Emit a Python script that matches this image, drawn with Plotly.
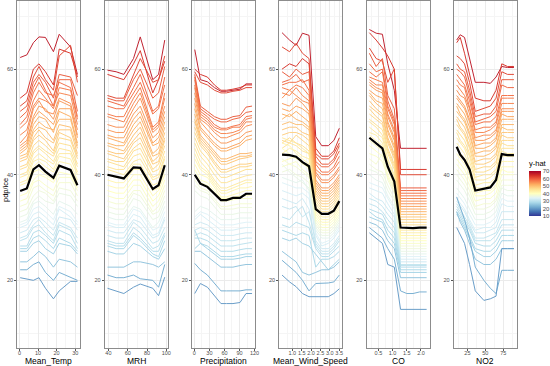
import plotly.graph_objects as go
from plotly.colors import make_colorscale, sample_colorscale, diverging

# ---------------- data ----------------
features = ["Mean_Temp", "MRH", "Precipitation", "Mean_Wind_Speed", "CO", "NO2"]

# y-hat (prediction) of each observation -> line colour
yhat = [67, 64, 62, 60, 59, 58, 57, 56, 55, 54, 53, 52, 51, 50, 49, 48, 47, 46, 45, 44,
        43, 42, 41, 40, 39, 38, 37, 36, 35, 34, 33, 32, 31, 30, 29, 28, 27, 25, 22, 20]

grid_temp = [0.4, 4.0, 7.5, 10.5, 14, 18.3, 21.4, 27.5, 31.2]
pdp_temp = [36.9, 37.4, 41.0, 41.8, 40.6, 39.4, 41.7, 40.9, 38.0]
ice_temp = [
    [62.2, 62.7, 65.0, 66.1, 66.0, 63.3, 66.6, 64.2, 59.0],
    [54.5, 55.5, 60.0, 61.0, 59.5, 57.0, 63.8, 63.0, 58.5],
    [53.0, 54.0, 58.5, 60.5, 58.0, 56.0, 62.5, 64.5, 57.5],
    [52.0, 53.0, 57.5, 59.0, 57.5, 54.5, 59.0, 58.5, 55.0],
    [50.8, 52.0, 56.5, 58.5, 56.0, 53.0, 58.0, 58.0, 52.0],
    [49.5, 51.0, 55.5, 57.5, 55.5, 55.0, 57.5, 56.5, 51.0],
    [48.8, 50.0, 54.0, 56.0, 54.5, 52.5, 56.5, 56.0, 50.5],
    [47.5, 48.5, 53.0, 54.5, 54.0, 53.0, 55.5, 55.0, 49.5],
    [46.0, 47.5, 52.5, 54.0, 52.0, 51.5, 54.5, 53.5, 48.5],
    [45.5, 46.5, 51.0, 53.0, 52.5, 50.5, 54.0, 53.0, 47.5],
    [45.0, 46.0, 50.5, 52.0, 51.0, 49.5, 52.5, 52.5, 47.0],
    [44.5, 45.5, 49.5, 51.0, 50.5, 48.0, 52.0, 51.0, 46.0],
    [44.0, 45.0, 48.5, 50.0, 49.0, 48.5, 50.5, 50.5, 45.5],
    [43.5, 44.0, 48.0, 49.0, 48.5, 46.5, 49.5, 49.0, 45.0],
    [43.0, 43.5, 47.0, 48.5, 47.0, 46.0, 48.5, 48.5, 44.0],
    [42.5, 43.0, 46.5, 47.5, 46.5, 44.5, 48.0, 47.0, 43.5],
    [41.5, 42.0, 45.5, 46.5, 45.5, 44.0, 47.0, 46.5, 43.0],
    [41.0, 41.5, 44.5, 45.5, 44.5, 43.5, 46.0, 45.5, 42.0],
    [40.0, 40.5, 44.0, 45.0, 44.0, 42.5, 45.0, 44.5, 41.5],
    [39.5, 40.0, 43.0, 44.0, 43.0, 42.0, 44.0, 44.0, 40.5],
    [38.5, 39.0, 42.5, 43.0, 42.5, 41.0, 43.5, 43.0, 40.0],
    [38.0, 38.5, 41.5, 42.5, 41.5, 40.5, 42.5, 42.0, 39.0],
    [37.0, 37.5, 40.5, 41.0, 40.0, 39.0, 41.5, 41.0, 38.5],
    [36.0, 36.5, 39.0, 40.0, 39.5, 38.5, 40.5, 40.0, 37.5],
    [35.0, 35.5, 38.5, 39.0, 38.0, 37.0, 39.5, 39.5, 37.0],
    [34.0, 34.5, 37.5, 38.0, 37.0, 36.0, 38.5, 38.5, 36.0],
    [33.0, 33.5, 36.0, 37.0, 36.5, 35.0, 37.5, 37.0, 35.0],
    [32.0, 32.5, 35.0, 36.0, 35.0, 34.5, 36.5, 36.0, 34.0],
    [31.0, 31.5, 34.5, 35.0, 34.0, 32.5, 35.0, 34.0, 32.5],
    [30.5, 31.0, 33.5, 34.0, 33.0, 31.5, 34.0, 33.0, 31.0],
    [30.0, 30.5, 32.5, 33.0, 32.0, 30.5, 33.5, 32.0, 30.5],
    [29.0, 29.5, 31.5, 32.0, 31.0, 29.5, 32.0, 31.5, 29.5],
    [28.0, 28.5, 30.5, 31.5, 30.0, 28.5, 31.0, 30.0, 28.0],
    [27.5, 28.0, 30.0, 30.5, 29.0, 27.5, 30.5, 29.5, 27.0],
    [26.5, 26.5, 29.0, 29.5, 28.5, 27.0, 29.5, 28.5, 26.0],
    [26.0, 26.0, 28.0, 28.5, 27.5, 26.0, 28.0, 27.0, 25.5],
    [25.5, 25.5, 27.0, 27.5, 26.0, 25.0, 27.0, 26.5, 25.0],
    [23.5, 23.5, 24.5, 25.5, 24.5, 22.5, 24.0, 23.5, 22.5],
    [22.0, 22.0, 23.0, 23.5, 21.5, 20.0, 21.5, 20.5, 20.0],
    [20.5, 20.3, 20.0, 20.5, 18.5, 16.5, 18.0, 19.8, 19.8],
]

grid_mrh = [39, 48, 56, 66, 73, 86, 92, 98.4]
pdp_mrh = [40.0, 39.7, 39.3, 41.4, 41.3, 37.3, 38.0, 41.8]
ice_mrh = [
    [59.8, 59.5, 59.0, 62.0, 66.1, 58.0, 59.0, 65.5],
    [59.0, 58.5, 58.0, 61.0, 63.5, 55.5, 58.0, 61.5],
    [55.0, 54.5, 54.5, 59.0, 62.0, 57.5, 58.0, 62.5],
    [54.5, 54.0, 54.0, 58.0, 60.0, 54.5, 55.5, 60.5],
    [54.0, 53.5, 53.0, 56.5, 59.0, 52.0, 53.0, 58.5],
    [53.0, 52.5, 52.5, 55.5, 57.5, 51.5, 52.5, 57.0],
    [51.5, 51.0, 51.0, 54.5, 56.5, 49.0, 50.0, 55.5],
    [51.0, 50.5, 50.0, 53.5, 55.5, 48.5, 49.5, 54.5],
    [49.5, 49.0, 49.0, 52.5, 54.5, 48.0, 49.0, 53.0],
    [48.5, 48.0, 48.0, 51.5, 53.0, 47.0, 48.0, 52.0],
    [47.5, 47.0, 47.0, 50.5, 52.0, 46.0, 47.0, 51.0],
    [47.0, 46.5, 46.0, 49.5, 51.0, 45.5, 46.0, 50.0],
    [46.0, 45.5, 45.5, 48.5, 50.0, 44.0, 45.0, 49.0],
    [45.5, 45.0, 44.5, 47.5, 49.0, 43.5, 44.0, 48.0],
    [44.5, 44.0, 44.0, 46.5, 48.0, 42.5, 43.5, 47.0],
    [44.0, 43.5, 43.0, 46.0, 47.0, 42.0, 42.5, 46.5],
    [43.0, 42.5, 42.5, 45.0, 46.0, 41.0, 42.0, 45.5],
    [42.5, 42.0, 41.5, 44.5, 45.0, 40.5, 41.0, 44.5],
    [41.5, 41.0, 41.0, 43.5, 44.0, 39.5, 40.0, 43.5],
    [41.0, 40.5, 40.0, 42.5, 43.0, 39.0, 39.5, 43.0],
    [40.0, 39.5, 39.5, 42.0, 42.0, 38.0, 38.5, 42.0],
    [39.0, 38.5, 38.5, 41.0, 41.0, 37.0, 37.5, 41.0],
    [38.0, 37.5, 37.5, 40.0, 40.0, 36.0, 37.0, 40.0],
    [37.0, 36.5, 36.5, 39.0, 39.0, 35.0, 36.0, 39.0],
    [36.0, 35.5, 35.5, 38.0, 38.0, 34.0, 35.0, 38.0],
    [35.0, 34.5, 34.5, 37.0, 37.0, 33.0, 34.0, 37.0],
    [34.0, 33.5, 33.5, 36.5, 36.0, 32.5, 33.0, 36.0],
    [33.0, 32.5, 32.5, 35.5, 35.0, 31.5, 32.0, 35.0],
    [32.0, 31.5, 31.5, 34.0, 33.5, 30.0, 31.0, 34.0],
    [31.0, 30.5, 30.5, 33.5, 33.0, 29.5, 30.0, 33.0],
    [30.5, 30.0, 30.0, 32.5, 32.0, 28.5, 29.0, 32.0],
    [29.5, 29.0, 29.0, 31.5, 31.0, 28.0, 28.5, 31.5],
    [28.5, 28.0, 28.0, 31.0, 30.0, 27.0, 27.5, 30.0],
    [27.5, 27.0, 27.0, 30.0, 29.0, 26.0, 26.5, 29.0],
    [27.0, 26.5, 26.5, 29.0, 28.0, 25.5, 25.5, 28.5],
    [26.5, 26.0, 26.0, 28.5, 27.5, 25.0, 24.5, 27.5],
    [25.5, 25.0, 25.0, 27.0, 26.5, 24.5, 24.0, 26.0],
    [22.5, 22.5, 22.5, 23.5, 23.5, 23.0, 22.5, 23.5],
    [21.0, 20.5, 20.5, 21.0, 20.3, 20.0, 18.7, 23.0],
    [18.5, 18.0, 17.5, 18.7, 19.3, 18.5, 17.1, 20.6],
]

grid_prec = [0.8, 12, 26, 40, 53, 64, 77, 91, 103, 115]
pdp_prec = [40.0, 38.3, 37.7, 36.3, 35.2, 35.2, 35.6, 35.6, 36.4, 36.4]
ice_prec = [
    [63.7, 58.0, 57.6, 56.5, 55.8, 55.8, 56.0, 56.2, 57.2, 57.2],
    [60.0, 59.0, 58.5, 57.0, 56.0, 56.0, 56.2, 56.5, 57.0, 57.0],
    [59.5, 57.5, 57.0, 56.0, 55.5, 55.5, 55.8, 56.0, 56.5, 56.5],
    [59.0, 53.0, 52.0, 51.0, 50.5, 50.5, 51.0, 51.2, 52.8, 53.0],
    [58.5, 52.5, 51.5, 50.5, 50.0, 50.0, 50.5, 50.8, 51.8, 52.0],
    [58.0, 52.0, 51.0, 49.5, 48.8, 48.8, 49.2, 49.5, 51.0, 51.2],
    [57.0, 51.5, 50.5, 49.0, 48.5, 48.5, 49.0, 49.0, 50.5, 50.8],
    [56.5, 51.0, 50.0, 48.5, 47.8, 47.8, 48.0, 48.5, 50.0, 50.0],
    [55.5, 50.5, 49.5, 48.0, 47.0, 47.0, 47.5, 48.0, 49.2, 49.5],
    [54.5, 50.0, 48.5, 47.0, 46.0, 46.0, 46.5, 47.0, 48.0, 48.3],
    [53.5, 49.0, 47.5, 46.0, 45.0, 45.0, 45.5, 46.0, 47.2, 47.5],
    [52.5, 48.5, 47.0, 45.5, 44.5, 44.5, 45.0, 45.5, 46.5, 46.8],
    [51.5, 47.5, 46.0, 44.5, 43.0, 43.0, 43.5, 44.0, 44.0, 44.2],
    [50.5, 47.0, 45.5, 44.0, 42.5, 42.5, 43.0, 43.5, 43.5, 43.8],
    [50.0, 46.5, 45.0, 43.5, 42.0, 42.0, 42.5, 43.0, 43.2, 43.5],
    [49.0, 46.0, 44.5, 42.5, 41.0, 41.0, 41.5, 42.0, 42.0, 42.2],
    [48.0, 45.5, 44.0, 42.0, 40.5, 40.5, 41.0, 41.5, 41.5, 41.8],
    [47.0, 44.5, 43.0, 41.0, 39.5, 39.5, 40.0, 40.5, 41.0, 41.0],
    [46.0, 43.5, 42.0, 40.0, 38.5, 38.5, 39.0, 39.5, 39.8, 40.0],
    [45.0, 42.5, 41.0, 39.0, 37.5, 37.5, 38.0, 38.5, 39.0, 39.0],
    [44.0, 41.5, 40.5, 38.5, 37.0, 37.0, 37.5, 38.0, 38.5, 38.5],
    [43.0, 41.0, 40.0, 38.0, 36.5, 36.5, 37.0, 37.5, 37.5, 37.8],
    [42.0, 40.0, 39.5, 37.5, 35.8, 35.8, 36.2, 36.5, 37.0, 37.0],
    [41.0, 39.0, 38.5, 37.0, 35.5, 35.5, 35.8, 36.0, 36.0, 36.2],
    [40.0, 38.5, 38.0, 36.5, 35.0, 35.0, 35.2, 35.5, 35.5, 35.5],
    [39.0, 37.5, 37.0, 35.5, 34.0, 34.0, 34.2, 34.5, 34.5, 34.5],
    [38.0, 37.0, 36.5, 35.0, 33.5, 33.5, 33.5, 33.8, 33.8, 33.8],
    [37.0, 36.0, 35.5, 34.0, 32.5, 32.5, 32.5, 32.8, 32.8, 32.8],
    [33.0, 34.0, 33.5, 32.5, 31.5, 31.5, 31.5, 31.8, 31.8, 31.8],
    [32.0, 33.0, 32.5, 31.5, 30.5, 30.5, 30.5, 30.8, 31.0, 31.0],
    [31.5, 32.5, 31.5, 30.5, 29.5, 29.5, 29.5, 29.8, 30.0, 30.0],
    [30.5, 31.0, 30.5, 29.5, 28.5, 28.5, 28.5, 28.8, 29.0, 29.0],
    [29.5, 30.0, 29.5, 28.5, 27.5, 27.5, 27.5, 27.8, 28.0, 28.0],
    [28.5, 29.0, 28.5, 27.5, 26.5, 26.5, 26.5, 26.8, 27.0, 27.2],
    [28.0, 28.0, 27.5, 26.5, 25.5, 25.5, 25.5, 25.8, 26.0, 26.0],
    [29.5, 27.0, 26.5, 25.5, 24.5, 24.5, 24.5, 24.8, 25.0, 25.0],
    [26.0, 27.0, 26.0, 25.0, 24.0, 24.0, 24.0, 24.2, 24.5, 24.5],
    [25.5, 25.5, 24.5, 23.5, 22.5, 22.5, 22.5, 22.8, 23.0, 23.0],
    [23.2, 22.0, 21.0, 19.5, 18.0, 18.0, 18.0, 18.0, 18.2, 18.2],
    [17.5, 19.4, 18.7, 17.0, 15.6, 15.6, 15.6, 15.8, 17.5, 17.5],
]

grid_wind = [0.45, 0.85, 1.2, 1.54, 1.89, 2.25, 2.57, 2.92, 3.22, 3.51]
pdp_wind = [43.8, 43.7, 43.4, 42.4, 41.6, 33.5, 32.6, 32.6, 33.2, 35.0]
ice_wind = [
    [66.9, 65.5, 64.5, 66.8, 66.4, 47.2, 45.5, 45.5, 46.5, 48.8],
    [60.0, 61.0, 60.5, 62.0, 61.0, 45.0, 43.5, 43.5, 44.5, 47.0],
    [64.2, 63.3, 64.9, 63.0, 62.0, 44.0, 43.0, 43.0, 44.0, 46.0],
    [59.5, 58.5, 60.0, 59.0, 59.5, 43.5, 42.0, 42.0, 43.0, 45.5],
    [57.5, 58.0, 59.0, 57.5, 58.0, 42.5, 41.5, 41.5, 42.5, 44.5],
    [57.0, 57.5, 57.5, 58.0, 56.0, 42.0, 40.5, 40.5, 41.5, 43.5],
    [56.5, 56.0, 57.0, 56.5, 55.0, 41.0, 40.0, 40.0, 41.0, 42.5],
    [55.5, 55.0, 56.5, 55.0, 54.0, 40.5, 39.0, 39.0, 40.0, 41.5],
    [54.5, 56.0, 55.0, 54.0, 53.5, 40.0, 38.5, 38.5, 39.5, 41.0],
    [53.5, 53.0, 54.5, 53.5, 52.0, 39.0, 37.5, 37.5, 38.5, 40.0],
    [52.5, 52.0, 53.0, 52.5, 51.5, 38.5, 37.0, 37.0, 38.0, 39.5],
    [51.5, 51.0, 52.0, 51.0, 50.0, 38.0, 36.5, 36.5, 37.5, 39.0],
    [50.5, 51.5, 50.5, 50.0, 49.0, 37.5, 36.0, 36.0, 37.0, 38.5],
    [49.5, 50.0, 49.5, 49.5, 48.5, 37.0, 35.5, 35.5, 36.5, 38.0],
    [48.5, 49.0, 49.0, 48.0, 47.5, 36.5, 35.0, 35.0, 36.0, 37.5],
    [47.5, 48.0, 48.0, 47.5, 46.5, 36.0, 34.5, 34.5, 35.5, 37.0],
    [46.5, 46.0, 47.5, 46.5, 45.5, 35.5, 34.0, 34.0, 35.0, 36.5],
    [46.0, 47.0, 46.0, 45.5, 44.5, 35.0, 33.5, 33.5, 34.5, 36.0],
    [45.0, 46.0, 45.5, 44.5, 44.0, 34.5, 33.0, 33.0, 34.0, 35.5],
    [47.0, 46.5, 46.0, 45.0, 44.0, 34.0, 32.5, 32.5, 33.5, 35.0],
    [44.0, 45.0, 44.5, 43.5, 43.0, 33.5, 32.0, 32.0, 33.0, 34.5],
    [46.0, 45.5, 44.0, 43.0, 42.0, 33.0, 31.5, 31.5, 32.5, 34.0],
    [42.5, 43.0, 43.5, 42.0, 41.5, 32.5, 31.0, 31.0, 32.0, 33.5],
    [45.0, 44.0, 43.0, 42.5, 41.0, 32.0, 30.5, 30.5, 31.5, 33.0],
    [41.5, 42.0, 42.5, 41.0, 40.0, 31.5, 30.0, 30.0, 31.0, 32.5],
    [43.0, 42.0, 41.5, 40.5, 39.5, 31.0, 29.5, 29.5, 30.5, 32.0],
    [40.5, 41.0, 40.0, 39.5, 38.5, 30.5, 29.0, 29.0, 30.0, 31.5],
    [42.0, 40.5, 39.5, 38.5, 37.5, 30.0, 28.5, 28.5, 29.5, 31.0],
    [39.5, 39.0, 38.5, 39.0, 37.0, 29.5, 28.0, 28.0, 29.0, 30.5],
    [38.5, 38.0, 37.5, 37.5, 36.5, 29.0, 27.0, 27.5, 28.5, 30.0],
    [37.0, 36.5, 36.0, 36.5, 35.5, 28.5, 26.5, 27.0, 28.0, 29.5],
    [35.5, 35.0, 34.5, 35.5, 33.5, 27.5, 26.0, 26.0, 27.0, 28.5],
    [34.0, 33.5, 34.0, 32.0, 33.0, 27.0, 25.5, 25.5, 26.5, 28.0],
    [32.0, 31.5, 33.0, 34.0, 31.0, 26.5, 25.0, 25.0, 26.0, 27.5],
    [30.5, 30.0, 31.0, 30.5, 30.0, 26.0, 24.5, 24.5, 25.5, 26.5],
    [29.5, 29.0, 28.5, 29.0, 28.5, 22.5, 24.0, 24.0, 24.5, 25.5],
    [28.0, 27.5, 28.0, 27.0, 26.5, 25.0, 23.5, 22.0, 23.0, 24.0],
    [25.5, 24.5, 23.5, 21.5, 21.0, 21.5, 22.0, 22.0, 22.5, 23.5],
    [23.8, 22.5, 21.5, 20.0, 18.0, 19.4, 19.4, 19.5, 19.7, 21.0],
    [21.0, 19.7, 18.8, 17.5, 16.9, 16.9, 16.9, 16.9, 17.5, 18.4],
]

grid_co = [0.18, 0.42, 0.64, 0.83, 1.06, 1.28, 1.5, 1.72, 1.95, 2.2]
pdp_co = [47.0, 46.0, 45.0, 41.5, 38.7, 30.0, 29.9, 29.9, 30.0, 30.0]
ice_co = [
    [67.5, 66.8, 66.6, 61.0, 56.0, 45.0, 45.0, 45.0, 45.0, 45.0],
    [66.9, 65.5, 64.0, 62.5, 60.0, 41.0, 41.0, 41.0, 41.0, 41.0],
    [64.0, 62.0, 61.5, 57.5, 60.0, 40.0, 40.0, 40.0, 40.0, 40.0],
    [63.0, 60.5, 62.0, 55.0, 52.5, 37.5, 37.5, 37.5, 37.5, 37.5],
    [61.0, 59.5, 60.0, 54.0, 50.5, 37.0, 37.0, 37.0, 37.0, 37.0],
    [59.5, 58.5, 59.5, 53.0, 50.0, 36.5, 36.5, 36.5, 36.5, 36.5],
    [58.5, 58.0, 57.5, 52.5, 49.5, 36.0, 36.0, 36.0, 36.0, 36.0],
    [58.0, 57.0, 57.0, 51.5, 48.5, 35.5, 35.5, 35.5, 35.5, 35.5],
    [57.5, 56.5, 56.0, 51.0, 48.0, 35.0, 35.0, 35.0, 35.0, 35.0],
    [57.0, 56.0, 55.5, 50.0, 47.0, 34.5, 34.5, 34.5, 34.5, 34.5],
    [56.0, 55.0, 54.5, 49.5, 46.5, 34.0, 34.0, 34.0, 34.0, 34.0],
    [55.5, 54.0, 53.5, 48.5, 45.5, 33.5, 33.5, 33.5, 33.5, 33.5],
    [55.0, 53.5, 52.5, 48.0, 45.0, 33.0, 33.0, 33.0, 33.0, 33.0],
    [54.0, 52.5, 51.5, 47.0, 44.0, 32.5, 32.5, 32.5, 32.5, 32.5],
    [53.0, 52.0, 51.0, 46.5, 43.5, 32.0, 32.0, 32.0, 32.0, 32.0],
    [52.5, 51.0, 50.0, 46.0, 43.0, 31.5, 31.5, 31.5, 31.5, 31.5],
    [51.5, 50.5, 49.5, 45.0, 42.0, 31.0, 31.0, 31.0, 31.0, 31.0],
    [50.5, 49.5, 48.5, 44.5, 41.5, 30.5, 30.5, 30.5, 30.5, 30.5],
    [50.0, 49.0, 47.5, 44.0, 41.0, 30.0, 30.0, 30.0, 30.0, 30.0],
    [49.0, 48.0, 47.0, 43.0, 40.0, 29.5, 29.5, 29.5, 29.5, 29.5],
    [48.0, 47.5, 46.0, 42.5, 39.5, 29.0, 29.0, 29.0, 29.0, 29.0],
    [47.5, 46.5, 45.5, 41.5, 39.0, 28.5, 28.5, 28.5, 28.5, 28.5],
    [46.5, 45.5, 44.5, 41.0, 38.0, 28.0, 28.0, 28.0, 28.0, 28.0],
    [45.5, 44.5, 43.5, 40.0, 37.5, 27.5, 27.5, 27.5, 27.5, 27.5],
    [44.0, 43.5, 42.5, 39.5, 37.0, 27.0, 27.0, 27.0, 27.0, 27.0],
    [43.0, 42.0, 44.0, 39.0, 36.5, 26.5, 26.5, 26.5, 26.5, 26.5],
    [42.0, 41.0, 40.5, 38.0, 35.5, 26.0, 26.0, 26.0, 26.0, 26.0],
    [41.0, 40.5, 39.5, 37.0, 35.0, 25.5, 25.5, 25.5, 25.5, 25.5],
    [40.0, 39.0, 38.5, 36.0, 34.0, 25.0, 25.0, 25.0, 25.0, 25.0],
    [38.5, 38.0, 37.5, 35.5, 33.5, 24.5, 24.5, 24.5, 24.5, 24.5],
    [37.5, 37.0, 36.5, 34.5, 32.5, 24.0, 24.0, 24.0, 24.0, 24.0],
    [36.5, 35.5, 35.0, 33.5, 32.0, 23.5, 23.5, 23.5, 23.5, 23.5],
    [35.5, 35.0, 34.0, 32.5, 31.0, 23.0, 23.0, 23.0, 23.0, 23.0],
    [34.5, 34.0, 33.0, 31.5, 30.0, 22.8, 22.8, 22.8, 22.8, 22.8],
    [33.5, 33.0, 32.5, 30.5, 29.0, 22.5, 22.5, 22.5, 22.5, 22.5],
    [33.0, 32.0, 31.5, 29.5, 28.0, 22.0, 22.0, 22.0, 22.0, 22.0],
    [32.0, 31.5, 31.0, 28.5, 27.0, 21.5, 21.5, 21.5, 21.5, 21.5],
    [31.0, 30.5, 29.5, 27.5, 26.0, 20.5, 20.5, 20.5, 20.5, 20.5],
    [30.0, 29.0, 28.0, 26.0, 24.0, 18.0, 17.5, 17.5, 17.8, 17.8],
    [29.0, 28.0, 27.0, 23.0, 22.5, 14.5, 14.5, 14.5, 14.5, 14.5],
]

grid_no2 = [10, 15, 21, 28, 36, 48, 57, 65, 73, 81, 90]
pdp_no2 = [45.3, 43.8, 42.8, 41.0, 37.0, 37.3, 37.6, 39.0, 43.9, 43.7, 43.7]
ice_no2 = [
    [65.5, 66.5, 66.0, 62.0, 57.5, 57.5, 57.3, 58.5, 60.5, 60.3, 60.3],
    [65.0, 66.0, 63.0, 59.0, 54.5, 54.0, 54.0, 56.0, 61.0, 60.5, 60.5],
    [62.5, 62.0, 61.0, 57.5, 52.0, 52.5, 53.0, 54.5, 59.5, 59.0, 59.0],
    [61.0, 60.0, 59.5, 56.0, 51.0, 51.5, 51.5, 53.0, 58.0, 58.0, 58.0],
    [60.0, 59.5, 58.5, 55.0, 50.0, 50.5, 51.0, 52.0, 57.0, 56.5, 56.5],
    [59.0, 58.0, 57.0, 54.0, 49.5, 50.0, 50.0, 51.0, 55.0, 55.0, 55.0],
    [58.0, 57.0, 56.5, 53.0, 48.5, 49.0, 49.0, 50.0, 54.5, 54.5, 54.5],
    [57.0, 56.0, 55.0, 52.5, 48.0, 48.0, 48.5, 49.5, 53.5, 53.5, 53.5],
    [56.0, 55.0, 54.5, 51.5, 47.0, 47.5, 47.5, 48.5, 52.5, 52.5, 52.5],
    [55.0, 54.0, 53.0, 50.5, 46.5, 46.5, 47.0, 48.0, 52.0, 52.0, 52.0],
    [54.5, 53.5, 52.5, 50.0, 45.5, 46.0, 46.0, 47.0, 51.5, 51.0, 51.0],
    [53.5, 52.5, 51.5, 49.0, 45.0, 45.0, 45.5, 46.5, 50.5, 50.5, 50.5],
    [53.0, 51.5, 50.5, 48.0, 44.0, 44.5, 44.5, 45.5, 49.5, 49.5, 49.5],
    [52.0, 51.0, 50.0, 47.5, 43.5, 43.5, 44.0, 45.0, 49.0, 48.5, 48.5],
    [51.0, 50.0, 49.0, 46.5, 42.5, 43.0, 43.0, 44.0, 48.0, 48.0, 48.0],
    [50.5, 49.0, 48.0, 45.5, 42.0, 42.0, 42.5, 43.5, 47.5, 47.0, 47.0],
    [49.5, 48.5, 47.5, 45.0, 41.0, 41.5, 41.5, 42.5, 46.5, 46.5, 46.5],
    [48.5, 47.5, 46.5, 44.0, 40.5, 40.5, 41.0, 42.0, 46.0, 45.5, 45.5],
    [48.0, 46.5, 45.5, 43.5, 39.5, 40.0, 40.0, 41.0, 45.0, 45.0, 45.0],
    [47.0, 46.0, 45.0, 42.5, 39.0, 39.0, 39.5, 40.5, 44.5, 44.0, 44.0],
    [46.0, 45.0, 44.0, 41.5, 38.0, 38.5, 38.5, 39.5, 43.5, 43.5, 43.5],
    [45.0, 44.0, 43.0, 41.0, 37.5, 37.5, 38.0, 39.0, 42.5, 42.5, 42.5],
    [44.0, 43.0, 42.0, 40.0, 36.5, 37.0, 37.0, 38.0, 41.5, 41.5, 41.5],
    [43.0, 42.0, 41.0, 39.0, 36.0, 36.0, 36.5, 37.5, 41.0, 40.5, 40.5],
    [42.0, 41.0, 40.0, 38.0, 35.0, 35.5, 35.5, 36.5, 40.0, 40.0, 40.0],
    [41.0, 40.0, 39.0, 37.0, 34.0, 34.5, 34.5, 35.5, 39.0, 39.0, 39.0],
    [40.0, 39.0, 38.0, 36.0, 33.5, 33.5, 34.0, 35.0, 38.0, 38.0, 38.0],
    [39.0, 38.0, 37.0, 35.0, 32.5, 32.5, 33.0, 34.0, 37.5, 37.0, 37.0],
    [37.5, 36.5, 35.5, 33.5, 31.5, 31.5, 32.0, 33.0, 36.5, 36.0, 36.0],
    [36.5, 35.5, 34.5, 32.5, 30.5, 30.5, 31.0, 32.0, 35.5, 35.0, 35.0],
    [35.5, 34.5, 33.5, 31.5, 29.5, 30.0, 30.0, 31.0, 34.5, 34.0, 34.0],
    [35.0, 34.0, 33.0, 31.0, 29.0, 29.0, 29.5, 30.0, 33.0, 33.0, 33.0],
    [34.5, 33.5, 32.0, 30.5, 28.0, 28.0, 28.5, 29.0, 31.5, 31.5, 31.5],
    [34.0, 33.0, 31.5, 30.0, 27.5, 27.5, 27.5, 28.5, 30.5, 30.5, 30.5],
    [33.5, 32.5, 31.0, 29.5, 27.0, 26.5, 26.5, 27.5, 29.5, 29.5, 29.5],
    [33.0, 32.0, 30.5, 28.5, 26.0, 25.5, 25.5, 26.5, 28.5, 28.5, 28.5],
    [32.5, 31.5, 30.0, 28.0, 25.5, 24.5, 24.5, 25.5, 27.5, 27.5, 27.5],
    [33.0, 31.0, 29.5, 27.0, 24.0, 23.0, 23.0, 24.0, 26.0, 26.0, 26.0],
    [35.8, 34.0, 31.5, 28.0, 22.5, 20.0, 18.5, 17.5, 21.9, 21.9, 21.9],
    [30.0, 28.5, 27.0, 23.0, 18.0, 16.2, 16.5, 17.0, 26.0, 26.0, 26.0],
]

grids = [grid_temp, grid_mrh, grid_prec, grid_wind, grid_co, grid_no2]
pdps = [pdp_temp, pdp_mrh, pdp_prec, pdp_wind, pdp_co, pdp_no2]
ices = [ice_temp, ice_mrh, ice_prec, ice_wind, ice_co, ice_no2]

x_tickvals = [[0, 10, 20, 30], [40, 60, 80, 100], [0, 30, 60, 90, 120],
              [1.0, 1.5, 2.0, 2.5, 3.0, 3.5], [0.5, 1.0, 1.5, 2.0], [25, 50, 75]]
x_ticktext = [["0", "10", "20", "30"], ["40", "60", "80", "100"], ["0", "30", "60", "90", "120"],
              ["1.0", "1.5", "2.0", "2.5", "3.0", "3.5"], ["0.5", "1.0", "1.5", "2.0"], ["25", "50", "75"]]
x_minor = [[5, 15, 25], [50, 70, 90], [15, 45, 75, 105],
           [0.75, 1.25, 1.75, 2.25, 2.75, 3.25], [0.25, 0.75, 1.25, 1.75], [12.5, 37.5, 62.5, 87.5]]
y_tickvals = [20, 40, 60]
y_minor = [10, 30, 50, 70]
color_limits = [10, 70]

# ---------------- figure ----------------
W, H = 550, 366
cs = make_colorscale(diverging.RdYlBu[::-1])
fig = go.Figure()

panel_left0, panel_w, panel_pitch = 17.3, 63.0, 87.3
y_top_px, y_bot_px = 1.0, 347.5
y_range = [7.28, 72.9]

font_fam = "Liberation Sans, Arial, sans-serif"
tick_font = dict(size=5.5, color="#4d4d4d", family=font_fam)

for i in range(6):
    xs = "x" if i == 0 else f"x{i+1}"
    ys = "y" if i == 0 else f"y{i+1}"
    g = grids[i]
    for j, vals in enumerate(ices[i]):
        c = sample_colorscale(cs, [(yhat[j] - color_limits[0]) / (color_limits[1] - color_limits[0])])[0]
        fig.add_trace(go.Scatter(x=g, y=vals, mode="lines", xaxis=xs, yaxis=ys,
                                 line=dict(color=c, width=1.0), opacity=0.95,
                                 hoverinfo="skip", showlegend=False))
    fig.add_trace(go.Scatter(x=g, y=pdps[i], mode="lines", xaxis=xs, yaxis=ys,
                             line=dict(color="black", width=2.2),
                             hoverinfo="skip", showlegend=False))

    d = max(g) - min(g)
    xr = [min(g) - 0.05 * d, max(g) + 0.05 * d]
    x0 = panel_left0 + i * panel_pitch
    x1 = x0 + panel_w
    ax = dict(domain=[x0 / W, x1 / W], anchor=ys, range=xr, automargin=False,
              tickmode="array", tickvals=x_tickvals[i], ticktext=x_ticktext[i], tickangle=0,
              ticks="outside", ticklen=2, tickcolor="#555", tickwidth=0.8, ticklabelstandoff=-2,
              tickfont=tick_font,
              showline=True, mirror=True, linecolor="#8c8c8c", linewidth=1,
              showgrid=True, gridcolor="#ebebeb", gridwidth=0.7, zeroline=False,
              minor=dict(tickvals=x_minor[i], showgrid=True, gridcolor="#f5f5f5", gridwidth=0.5, ticks=""))
    ay = dict(domain=[1 - y_bot_px / H, 1 - y_top_px / H], anchor=xs, range=y_range, automargin=False,
              tickmode="array", tickvals=y_tickvals, tickangle=0,
              ticks="outside", ticklen=2, tickcolor="#555", tickwidth=0.8,
              tickfont=tick_font,
              showline=True, mirror=True, linecolor="#8c8c8c", linewidth=1,
              showgrid=True, gridcolor="#ebebeb", gridwidth=0.7, zeroline=False,
              minor=dict(tickvals=y_minor, showgrid=True, gridcolor="#f5f5f5", gridwidth=0.5, ticks=""))
    fig.layout["xaxis" if i == 0 else f"xaxis{i+1}"] = ax
    fig.layout["yaxis" if i == 0 else f"yaxis{i+1}"] = ay
    fig.add_annotation(x=(x0 + x1) / 2 / W, y=1 - 360.5 / H, xref="paper", yref="paper",
                       text=features[i], showarrow=False, xanchor="center", yanchor="middle",
                       font=dict(size=8.5, color="black", family=font_fam))

# colour bar
fig.add_trace(go.Scatter(x=[None, None], y=[None, None], mode="markers", xaxis="x6", yaxis="y6",
                         showlegend=False, hoverinfo="skip",
                         marker=dict(color=color_limits, colorscale=cs, cmin=color_limits[0],
                                     cmax=color_limits[1], showscale=True,
                                     colorbar=dict(x=529 / W, xanchor="left", y=1 - 186.5 / H,
                                                   yanchor="middle", len=59 / H, lenmode="fraction",
                                                   thickness=12, thicknessmode="pixels",
                                                   outlinewidth=0, xpad=0, ypad=0,
                                                   tickvals=[10, 20, 30, 40, 50, 60, 70], ticks="",
                                                   tickfont=dict(size=6, color="#4d4d4d", family=font_fam),
                                                   title=dict(text="y-hat", side="top",
                                                              font=dict(size=7.5, color="black", family=font_fam))))))

fig.add_annotation(x=5 / W, y=1 - 190 / H, xref="paper", yref="paper", text="pdp/ice",
                   textangle=-90, showarrow=False, xanchor="center", yanchor="middle",
                   font=dict(size=7.5, color="black", family=font_fam))

fig.update_layout(template="none", width=W, height=H, margin=dict(l=0, r=0, t=0, b=0, autoexpand=False),
                  paper_bgcolor="white", plot_bgcolor="white", showlegend=False)

fig.write_html("out.html", config={"displayModeBar": False},
               post_script="document.body.style.margin='0';document.body.style.padding='0';"
                           "document.documentElement.style.overflow='hidden';")
